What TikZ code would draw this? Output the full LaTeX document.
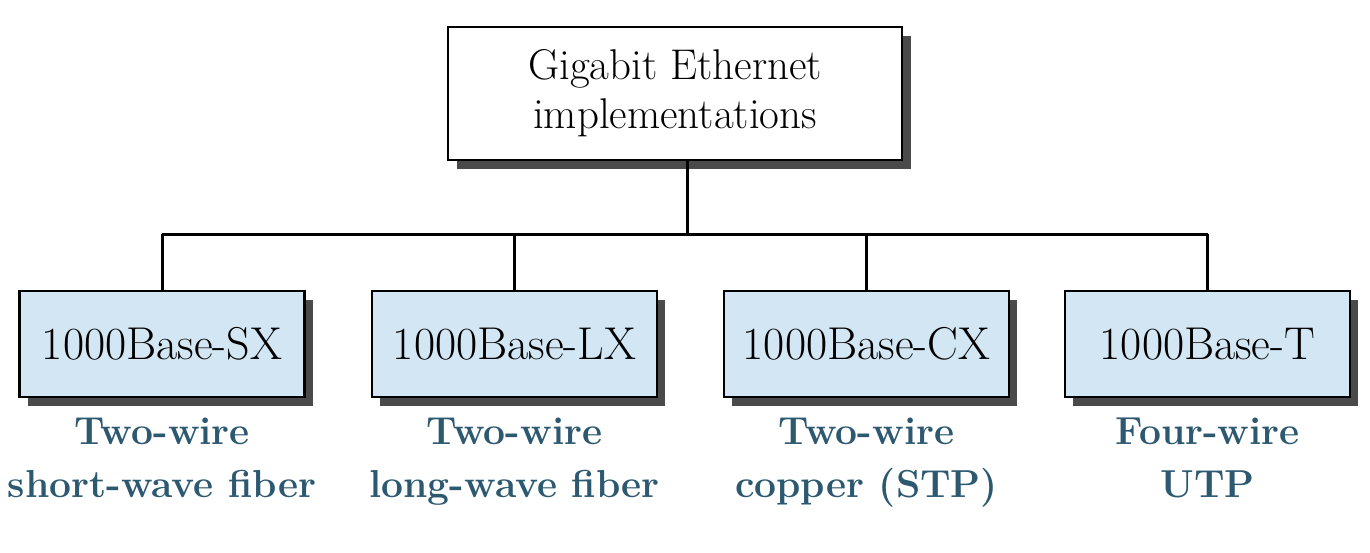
\documentclass[tikz,border=0pt]{standalone}
\usepackage{fontspec}
\newfontfamily\lmfont{Latin Modern Roman}
\definecolor{boxfill}{HTML}{D3E6F4}
\definecolor{shade}{HTML}{4A4A4A}
\definecolor{labelcol}{HTML}{2C5870}
\begin{document}
\begin{tikzpicture}[x=1pt,y=-1pt,
  box/.style={draw=black,line width=2.4pt,inner sep=0pt,align=center},
  topbox/.style={box,fill=white,minimum width=454pt,minimum height=133pt,
    font=\lmfont\fontsize{43}{49}\selectfont},
  subbox/.style={box,fill=boxfill,minimum width=285pt,minimum height=106pt,
    font=\lmfont\fontsize{46}{50}\selectfont},
  shadowbox/.style={fill=shade,draw=none},
  lbl/.style={font=\lmfont\fontsize{39}{53}\selectfont\bfseries,text=labelcol,align=center,anchor=north,inner sep=0pt},
  wire/.style={line width=3pt}]
\useasboundingbox (0,0) rectangle (1370,552);
% shadows
\fill[shadowbox] (457,36) rectangle (911,169);
\foreach \cx in {162,514.5,866.5,1207.5}
  \fill[shadowbox] (\cx-142.5+8,291+9) rectangle (\cx+142.5+8,397+9);
% top
\node[topbox] (top) at (675,93.5) {Gigabit Ethernet\\implementations};
% bottom boxes
\node[subbox] (sx) at (162,344) {1000Base-SX};
\node[subbox] (lx) at (514.5,344) {1000Base-LX};
\node[subbox] (cx) at (866.5,344) {1000Base-CX};
\node[subbox] (t) at (1207.5,344) {1000Base-T};
% connectors
\coordinate (j) at (687,234);
\coordinate (hl) at (162,234);
\coordinate (hr) at (1207.5,234);
\draw[wire] (j |- top.south) -- (j);
\draw[wire] (sx.north |- hl) -- (hr);
\draw[wire] (hl) -- (sx.north);
\draw[wire] (lx.north |- hl) -- (lx.north);
\draw[wire] (cx.north |- hl) -- (cx.north);
\draw[wire] (hr) -- (t.north);
% labels
\node[lbl] (l1) at (162,418) {Two-wire\\short-wave fiber};
\node[lbl] (l2) at (514.5,418) {Two-wire\\long-wave fiber};
\node[lbl] (l3) at (866.5,418) {Two-wire\\copper (STP)};
\node[lbl] (l4) at (1207.5,418) {Four-wire\\UTP};
\end{tikzpicture}
\end{document}
